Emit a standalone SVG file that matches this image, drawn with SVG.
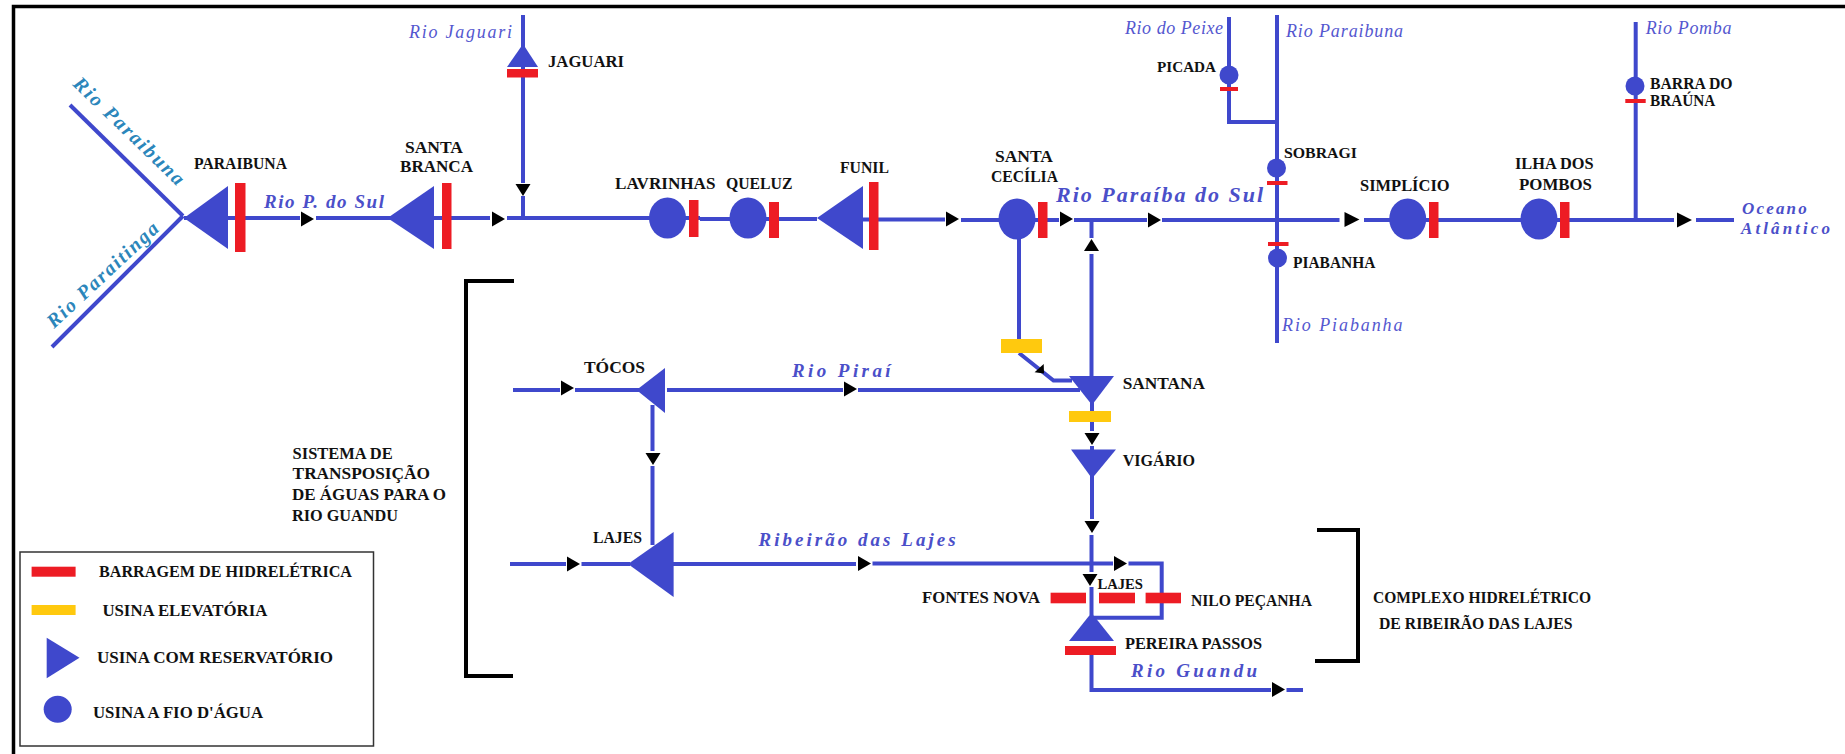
<svg xmlns="http://www.w3.org/2000/svg" xmlns:xlink="http://www.w3.org/1999/xlink" width="1845" height="754" viewBox="0 0 1845 754">
<style>
text{font-family:"Liberation Serif","Times New Roman",serif}
.l{font-weight:700;font-size:16px;fill:#111}
.r{font-style:italic;font-size:18px;fill:#5457cf}
.rb{font-style:italic;font-weight:700;font-size:19px;fill:#4b4fc9}
.rt{font-style:italic;font-weight:700;font-size:20px;fill:#2b86bb}
.c line,.c polyline{stroke:#3f48cc;stroke-width:4;fill:none}
.t{stroke:none;fill:#3f48cc}
.d{fill:#ed1c24}
.y{fill:#ffc90e}
.b{fill:none;stroke:#000;stroke-width:4}
</style>
<defs>
<polygon id="ar" points="0,-7.500 13,0 0,7.500" fill="#000"/>
<polygon id="ad" points="-7.500,0 7.500,0 0,12" fill="#000"/>
<polygon id="au" points="-7.500,0 7.500,0 0,-12" fill="#000"/>
</defs>
<rect width="1845" height="754" fill="#fff"/>
<path d="M13.500 754V6.500H1845" fill="none" stroke="#000" stroke-width="3.500"/>

<g id="connectors" class="c">
<line x1="70" y1="105" x2="183" y2="216"/>
<line x1="52" y1="347" x2="183" y2="216"/>
<line x1="184" y1="218" x2="300" y2="218"/>
<line x1="316" y1="218" x2="490" y2="218"/>
<line x1="507" y1="218" x2="700" y2="218"/>
<line x1="700" y1="219" x2="817" y2="219"/>
<line x1="860" y1="219.500" x2="945" y2="219.500"/>
<line x1="961" y1="220" x2="1059" y2="220"/>
<line x1="1074" y1="220" x2="1147" y2="220"/>
<line x1="1162" y1="220" x2="1339.500" y2="220"/>
<line x1="1364" y1="220" x2="1674" y2="220"/>
<line x1="1696" y1="220" x2="1734" y2="220"/>
<line x1="523" y1="15" x2="523" y2="183"/>
<line x1="523" y1="196" x2="523" y2="218"/>
<polyline points="1229,17 1229,122 1277,122"/>
<line x1="1277" y1="15" x2="1277" y2="343"/>
<line x1="1635.700" y1="22" x2="1635.700" y2="220"/>
<line x1="1019" y1="235" x2="1019" y2="340"/>
<polyline points="1019,353 1053.500,380.500 1072,380.500"/>
<line x1="1091.500" y1="220" x2="1091.500" y2="238"/>
<line x1="1091.500" y1="254" x2="1091.500" y2="380"/>
<line x1="513" y1="390" x2="560" y2="390"/>
<line x1="575" y1="390" x2="640" y2="390"/>
<line x1="667" y1="390" x2="843" y2="390"/>
<line x1="858" y1="390" x2="1080" y2="390"/>
<line x1="652.500" y1="405" x2="652.500" y2="451"/>
<line x1="652.500" y1="466" x2="652.500" y2="545"/>
<line x1="1092" y1="400" x2="1092" y2="431"/>
<line x1="1092" y1="446" x2="1092" y2="451"/>
<line x1="1092" y1="470" x2="1092" y2="519"/>
<line x1="1091.500" y1="535" x2="1091.500" y2="572"/>
<line x1="1091.500" y1="587" x2="1091.500" y2="615"/>
<line x1="510" y1="564" x2="566" y2="564"/>
<line x1="581.500" y1="564" x2="630" y2="564"/>
<line x1="672" y1="564" x2="856" y2="564"/>
<line x1="872.500" y1="563.500" x2="1113" y2="563.500"/>
<polyline points="1128.500,563.500 1161.700,563.500 1161.700,617.700 1092,617.700"/>
<polyline points="1091.500,650 1091.500,690 1271,690"/>
<line x1="1286.500" y1="690" x2="1303" y2="690"/>
<use xlink:href="#ar" x="301" y="219"/>
<use xlink:href="#ar" x="492" y="219"/>
<use xlink:href="#ar" x="946" y="219"/>
<use xlink:href="#ar" x="1060" y="219"/>
<use xlink:href="#ar" x="1148" y="220"/>
<use xlink:href="#ar" transform="translate(1344.500 219.500) scale(1.150 1)"/>
<use xlink:href="#ar" transform="translate(1677 220) scale(1.150 1)"/>
<use xlink:href="#ar" x="561" y="388"/>
<use xlink:href="#ar" x="844" y="389"/>
<use xlink:href="#ar" x="567" y="564"/>
<use xlink:href="#ar" x="858" y="563.500"/>
<use xlink:href="#ar" x="1114" y="563.500"/>
<use xlink:href="#ar" x="1272" y="689.500"/>
<use xlink:href="#ad" x="523" y="184"/>
<use xlink:href="#ad" x="653" y="453"/>
<use xlink:href="#ad" x="1092" y="433"/>
<use xlink:href="#ad" x="1092" y="521"/>
<use xlink:href="#ad" x="1090" y="574"/>
<use xlink:href="#au" x="1091.500" y="251"/>
<polygon points="1043.700,364 1034.600,372.300 1044,373.500" fill="#000"/>
</g>

<g id="node-paraibuna"><polygon class="t" points="184,218 228,186 228,249"/><rect class="d" x="235" y="183" width="10.500" height="69"/><text class="l" x="194" y="169" textLength="93" lengthAdjust="spacingAndGlyphs">PARAIBUNA</text></g>
<g id="node-santa-branca"><polygon class="t" points="387.500,218 434,186 434,249"/><rect class="d" x="442" y="183" width="9.500" height="66"/><text class="l" x="405" y="153" textLength="58" lengthAdjust="spacingAndGlyphs">SANTA</text><text class="l" x="400" y="172" textLength="73" lengthAdjust="spacingAndGlyphs">BRANCA</text></g>
<g id="node-jaguari"><polygon class="t" points="523,44 538,67 507,67"/><rect class="d" x="507" y="69" width="31" height="8.500"/><text class="l" x="548" y="67" textLength="76" lengthAdjust="spacingAndGlyphs">JAGUARI</text></g>
<g id="node-lavrinhas"><ellipse class="t" cx="667.500" cy="218" rx="18.500" ry="20.500"/><rect class="d" x="689" y="200" width="9.500" height="37"/><text class="l" x="615" y="189" textLength="100.500" lengthAdjust="spacingAndGlyphs">LAVRINHAS</text></g>
<g id="node-queluz"><ellipse class="t" cx="748" cy="218" rx="18.500" ry="20.500"/><rect class="d" x="769" y="202" width="10" height="36"/><text class="l" x="726" y="189" textLength="66.500" lengthAdjust="spacingAndGlyphs">QUELUZ</text></g>
<g id="node-funil"><polygon class="t" points="817,218 863,186 863,249"/><rect class="d" x="869" y="182" width="9.500" height="68"/><text class="l" x="840" y="173" textLength="49" lengthAdjust="spacingAndGlyphs">FUNIL</text></g>
<g id="node-santa-cecilia"><ellipse class="t" cx="1017" cy="219" rx="18.500" ry="20.500"/><rect class="d" x="1038" y="202" width="9.500" height="36"/><text class="l" x="995" y="162" textLength="58" lengthAdjust="spacingAndGlyphs">SANTA</text><text class="l" x="991" y="182" textLength="67" lengthAdjust="spacingAndGlyphs">CECÍLIA</text></g>
<g id="node-picada"><ellipse class="t" cx="1229" cy="75" rx="9.500" ry="9.500"/><rect class="d" x="1220" y="87" width="18" height="4"/><text class="l" x="1157" y="72" style="font-size:14.500px" textLength="59" lengthAdjust="spacingAndGlyphs">PICADA</text></g>
<g id="node-sobragi"><ellipse class="t" cx="1276.500" cy="168" rx="9.500" ry="9.500"/><rect class="d" x="1267" y="181" width="20.500" height="4"/><text class="l" x="1284" y="158" style="font-size:14.500px" textLength="73" lengthAdjust="spacingAndGlyphs">SOBRAGI</text></g>
<g id="node-piabanha"><ellipse class="t" cx="1277.500" cy="258" rx="9.500" ry="9.500"/><rect class="d" x="1268" y="242" width="20.500" height="4"/><text class="l" x="1293" y="268" textLength="82.400" lengthAdjust="spacingAndGlyphs">PIABANHA</text></g>
<g id="node-simplicio"><ellipse class="t" cx="1407.700" cy="219" rx="18.500" ry="20.500"/><rect class="d" x="1429" y="202" width="9.500" height="36"/><text class="l" x="1360" y="191" textLength="89.600" lengthAdjust="spacingAndGlyphs">SIMPLÍCIO</text></g>
<g id="node-ilha-dos-pombos"><ellipse class="t" cx="1539" cy="219" rx="18.500" ry="20.500"/><rect class="d" x="1560" y="202" width="9.500" height="36"/><text class="l" x="1515" y="169" textLength="78.500" lengthAdjust="spacingAndGlyphs">ILHA DOS</text><text class="l" x="1519" y="190" textLength="73" lengthAdjust="spacingAndGlyphs">POMBOS</text></g>
<g id="node-barra-do-brauna"><ellipse class="t" cx="1635" cy="86" rx="9.500" ry="9.500"/><rect class="d" x="1625.300" y="99" width="20.400" height="4"/><text class="l" x="1650" y="89" textLength="82.600" lengthAdjust="spacingAndGlyphs">BARRA DO</text><text class="l" x="1650" y="106" textLength="65.400" lengthAdjust="spacingAndGlyphs">BRAÚNA</text></g>
<g id="node-tocos"><polygon class="t" points="636.500,390 665,368 665,413"/><text class="l" x="584" y="373" textLength="61" lengthAdjust="spacingAndGlyphs">TÓCOS</text></g>
<g id="node-santana"><polygon class="t" points="1069,376 1114,376 1092,405"/><rect class="y" x="1001" y="339" width="41" height="14"/><rect class="y" x="1069" y="411" width="42" height="11"/><text class="l" x="1122.700" y="389" textLength="82.300" lengthAdjust="spacingAndGlyphs">SANTANA</text></g>
<g id="node-vigario"><polygon class="t" points="1071,449.500 1116,449.500 1092,478.500"/><text class="l" x="1122.700" y="465.700" textLength="72.300" lengthAdjust="spacingAndGlyphs">VIGÁRIO</text></g>
<g id="node-lajes-reservoir"><polygon class="t" points="628,564 673.600,532 673.600,597"/><text class="l" x="593" y="542.700" textLength="49" lengthAdjust="spacingAndGlyphs">LAJES</text></g>
<g id="node-lajes-complex"><rect class="d" x="1050.600" y="592.700" width="35.400" height="10.600"/><rect class="d" x="1099" y="592.700" width="36" height="10.600"/><rect class="d" x="1145.600" y="592.700" width="35.400" height="10.600"/><text class="l" x="1097.400" y="589" style="font-size:14.500px" textLength="45.600" lengthAdjust="spacingAndGlyphs">LAJES</text><text class="l" x="922" y="603" textLength="118" lengthAdjust="spacingAndGlyphs">FONTES NOVA</text><text class="l" x="1191" y="606" textLength="121" lengthAdjust="spacingAndGlyphs">NILO PEÇANHA</text></g>
<g id="node-pereira-passos"><polygon class="t" points="1091.500,612.700 1114,641 1069,641"/><rect class="d" x="1065" y="646" width="51" height="9"/><text class="l" x="1125" y="649" textLength="137" lengthAdjust="spacingAndGlyphs">PEREIRA PASSOS</text></g>

<g id="rivers">
<text class="rt" transform="translate(72 85) rotate(44)" textLength="146">Rio Paraibuna</text>
<text class="rt" transform="translate(54 329) rotate(-43)" textLength="145">Rio Paraitinga</text>
<text class="r" x="409" y="38" textLength="103">Rio Jaguari</text>
<text class="rb" x="264" y="208" textLength="120">Rio P. do Sul</text>
<text class="rb" x="1056" y="202" textLength="207" style="font-size:22px">Rio Paraíba do Sul</text>
<text class="r" x="1125" y="34" textLength="98">Rio do Peixe</text>
<text class="r" x="1286" y="37" textLength="117">Rio Paraibuna</text>
<text class="r" x="1282" y="331" textLength="120.500">Rio Piabanha</text>
<text class="r" x="1645.700" y="34" textLength="85.700">Rio Pomba</text>
<text class="rb" x="1742" y="214" textLength="64.700" style="font-size:17px">Oceano</text>
<text class="rb" x="1741" y="234" textLength="89" style="font-size:17px">Atlântico</text>
<text class="rb" x="792" y="376.700" textLength="98.600">Rio Piraí</text>
<text class="rb" x="758.600" y="546" textLength="197">Ribeirão das Lajes</text>
<text class="rb" x="1131" y="676.700" textLength="126">Rio Guandu</text>
</g>

<g id="brackets">
<polyline class="b" points="514,281 466,281 466,676 513,676"/>
<polyline class="b" points="1317,530 1358,530 1358,661 1315,661"/>
<text class="l" x="292.600" y="459" textLength="100" lengthAdjust="spacingAndGlyphs">SISTEMA DE</text>
<text class="l" x="292.600" y="479" textLength="137.400" lengthAdjust="spacingAndGlyphs">TRANSPOSIÇÃO</text>
<text class="l" x="292" y="500" textLength="154" lengthAdjust="spacingAndGlyphs">DE ÁGUAS PARA O</text>
<text class="l" x="292" y="520.600" textLength="106" lengthAdjust="spacingAndGlyphs">RIO GUANDU</text>
<text class="l" x="1373" y="603" textLength="218" lengthAdjust="spacingAndGlyphs">COMPLEXO HIDRELÉTRICO</text>
<text class="l" x="1379" y="629" textLength="193.600" lengthAdjust="spacingAndGlyphs">DE RIBEIRÃO DAS LAJES</text>
</g>

<g id="legend">
<rect x="20" y="552" width="353.500" height="194" fill="#fff" stroke="#333" stroke-width="1.500"/>
<rect class="d" x="31.600" y="566.700" width="44" height="10"/>
<rect class="y" x="31.600" y="605" width="44" height="10"/>
<polygon class="t" points="46.700,637.700 79.500,657.700 46.700,678.300"/>
<ellipse class="t" cx="57.700" cy="709.300" rx="14" ry="13.500"/>
<text class="l" x="99" y="577" textLength="253" lengthAdjust="spacingAndGlyphs">BARRAGEM DE HIDRELÉTRICA</text>
<text class="l" x="102.400" y="615.700" textLength="165" lengthAdjust="spacingAndGlyphs">USINA ELEVATÓRIA</text>
<text class="l" x="97" y="663" textLength="236" lengthAdjust="spacingAndGlyphs">USINA COM RESERVATÓRIO</text>
<text class="l" x="93" y="717.700" textLength="170" lengthAdjust="spacingAndGlyphs">USINA A FIO D'ÁGUA</text>
</g>
</svg>
